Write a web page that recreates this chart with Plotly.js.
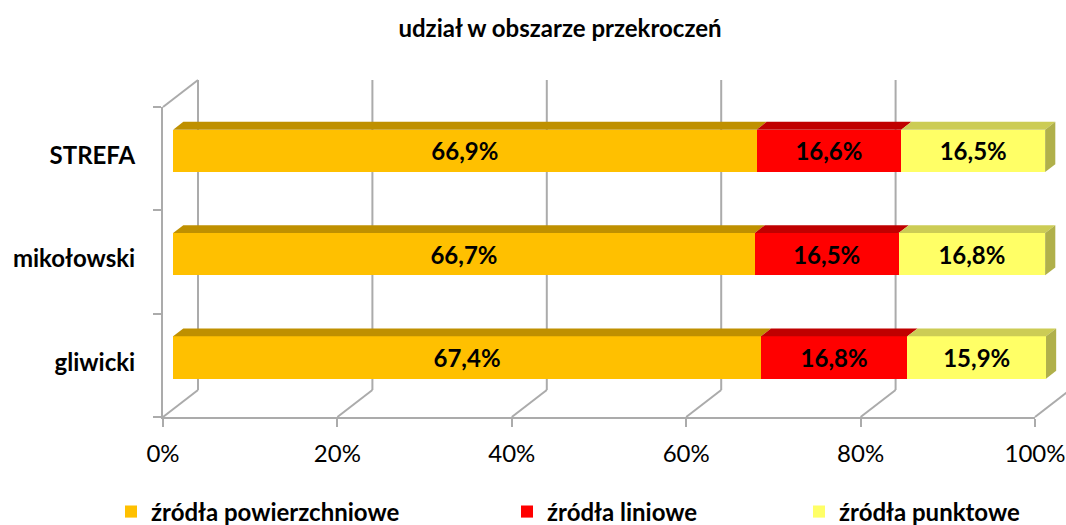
<!DOCTYPE html>
<html><head><meta charset="utf-8">
<script src="https://cdn.plot.ly/plotly-3.0.1.min.js"></script>
<style>html,body{margin:0;padding:0;background:#fff}#chart{width:1066px;height:525px}</style>
</head><body><div id="chart"></div>
<script>
// ---- data ----
const categories = ['gliwicki', 'mikołowski', 'STREFA'];
const seriesNames = ['źródła powierzchniowe', 'źródła liniowe', 'źródła punktowe'];
const powierzchniowe = [67.4, 66.7, 66.9];
const liniowe = [16.8, 16.5, 16.6];
const punktowe = [15.9, 16.8, 16.5];
const xTickValues = [0, 20, 40, 60, 80, 100];
const xTickLabels = ['0%', '20%', '40%', '60%', '80%', '100%'];
const chartTitle = 'udział w obszarze przekroczeń';

// ---- styles ----
const frontColors = ['#FFC000', '#FF0000', '#FFFF66'];
const topColors = ['#BF9000', '#C00000', '#CCCC55'];
const sideColor = '#B0B04A';
const gridColor = '#ABABAB';
const FONT = 'Lato, "Open Sans", sans-serif';

// ---- 3D-ish geometry (pixels of the front plane) ----
const W = 1066, H = 525;
const X0 = 163, X100 = 1035, YBOT = 417, YTOP = 107;
const SX = (X100 - X0) / 100, SY = (YBOT - YTOP) / 3;
const DEPTH_X = 35, DEPTH_Y = 27;
const BAR_D0 = 0.29, BAR_D1 = 0.58, BAR_W = 0.41;
const DX = DEPTH_X / SX, DY = DEPTH_Y / SY;

// world axes (x2/y2) map to the bar front plane
const x2range = [(0 - X0 - BAR_D0 * DEPTH_X) / SX, (W - X0 - BAR_D0 * DEPTH_X) / SX];
const yAt = p => (YBOT - BAR_D0 * DEPTH_Y - p) / SY - 0.5;
const y2range = [yAt(H), yAt(0)];
function P(v, c, d) { return [v + (d - BAR_D0) * DX, c + (d - BAR_D0) * DY]; }

const series = [powierzchniowe, liniowe, punktowe];
const idx = categories.map((_, i) => i);
const hw = BAR_W / 2;

const traces = [];
// placeholder so the front axes (x/y) subplot is created
traces.push({type: 'scatter', mode: 'markers', x: [null], y: [null], xaxis: 'x', yaxis: 'y',
  showlegend: false, hoverinfo: 'skip'});
// top faces and right side faces
categories.forEach((cat, i) => {
  let s = 0;
  series.forEach((arr, k) => {
    const e = s + arr[i];
    const pts = [P(s, i + hw, BAR_D0), P(e, i + hw, BAR_D0), P(e, i + hw, BAR_D1), P(s, i + hw, BAR_D1), P(s, i + hw, BAR_D0)];
    traces.push({type: 'scatter', mode: 'lines', x: pts.map(p => p[0]), y: pts.map(p => p[1]),
      fill: 'toself', fillcolor: topColors[k], line: {width: 0}, showlegend: false, hoverinfo: 'skip',
      xaxis: 'x2', yaxis: 'y2'});
    if (k === series.length - 1) {
      const sp = [P(e, i - hw, BAR_D0), P(e, i + hw, BAR_D0), P(e, i + hw, BAR_D1), P(e, i - hw, BAR_D1), P(e, i - hw, BAR_D0)];
      traces.push({type: 'scatter', mode: 'lines', x: sp.map(p => p[0]), y: sp.map(p => p[1]),
        fill: 'toself', fillcolor: sideColor, line: {width: 0}, showlegend: false, hoverinfo: 'skip',
        xaxis: 'x2', yaxis: 'y2'});
    }
    s = e;
  });
});
// front faces: stacked bars
const legendIds = ['legend', 'legend2', 'legend3'];
series.forEach((arr, k) => {
  traces.push({type: 'bar', orientation: 'h', name: seriesNames[k], x: arr, y: idx, width: BAR_W,
    marker: {color: frontColors[k], line: {width: 0}},
    texttemplate: '%{x:.1f}%', textposition: 'inside', insidetextanchor: 'middle', textangle: 0,
    constraintext: 'none',
    textfont: {family: FONT, size: 24, color: '#000', weight: 'bold'},
    xaxis: 'x2', yaxis: 'y2', legend: legendIds[k], hoverinfo: 'skip'});
});

// walls / gridlines
const shapes = [];
const ln = (a, b) => ({type: 'line', xref: 'x2', yref: 'y2', x0: a[0], y0: a[1], x1: b[0], y1: b[1],
  line: {color: gridColor, width: 2}, layer: 'below'});
xTickValues.forEach(v => {
  shapes.push(ln(P(v, -0.5, 1), P(v, 2.5, 1)));
  shapes.push(ln(P(v, -0.5, 0), P(v, -0.5, 1)));
});
shapes.push(ln(P(0, 2.5, 0), P(0, 2.5, 1)));

const legendBase = {orientation: 'h', yanchor: 'middle', y: 1 - 512 / H, xanchor: 'left',
  bgcolor: 'rgba(0,0,0,0)', font: {family: FONT, size: 24, color: '#000', weight: 'bold'}};

const layout = {
  width: W, height: H,
  margin: {l: 0, r: 0, t: 0, b: 0, autoexpand: false},
  paper_bgcolor: '#fff', plot_bgcolor: 'rgba(0,0,0,0)',
  separators: ',.',
  barmode: 'stack',
  hovermode: false,
  font: {family: FONT, color: '#000'},
  title: {text: chartTitle, x: 560 / W, xanchor: 'center', y: 1 - 29 / H, yanchor: 'middle',
    font: {family: FONT, size: 24, weight: 'bold', color: '#000'}},
  xaxis: {domain: [X0 / W, X100 / W], range: [0, 100], anchor: 'y', showline: true, linecolor: gridColor,
    linewidth: 2, ticks: 'outside', ticklen: 8, tickwidth: 2, tickcolor: gridColor,
    ticklabelstandoff: 6,
    tickmode: 'array', tickvals: xTickValues, ticktext: xTickLabels, showgrid: false, zeroline: false,
    tickfont: {family: FONT, size: 24, color: '#000'}, fixedrange: true},
  yaxis: {domain: [1 - YBOT / H, 1 - YTOP / H], range: [-0.5, 2.5], anchor: 'x', showline: true,
    linecolor: gridColor, linewidth: 2, ticks: '', tickmode: 'array', tickvals: idx, ticktext: categories,
    ticklabelstandoff: 21, ticklabelshift: -3,
    minor: {tickmode: 'array', tickvals: [-0.5, 0.5, 1.5, 2.5], ticks: 'outside', ticklen: 8, tickwidth: 2, tickcolor: gridColor},
    showgrid: false, zeroline: false,
    tickfont: {family: FONT, size: 24, color: '#000', weight: 'bold'}, fixedrange: true},
  xaxis2: {domain: [0, 1], range: x2range, anchor: 'y2', visible: false, fixedrange: true},
  yaxis2: {domain: [0, 1], range: y2range, anchor: 'x2', visible: false, fixedrange: true},
  legend: Object.assign({}, legendBase, {x: 111 / W}),
  legend2: Object.assign({}, legendBase, {x: 507 / W}),
  legend3: Object.assign({}, legendBase, {x: 799 / W}),
  shapes: shapes,
  showlegend: true
};

Plotly.newPlot('chart', traces, layout, {displayModeBar: false, staticPlot: true});
</script>
</body></html>
